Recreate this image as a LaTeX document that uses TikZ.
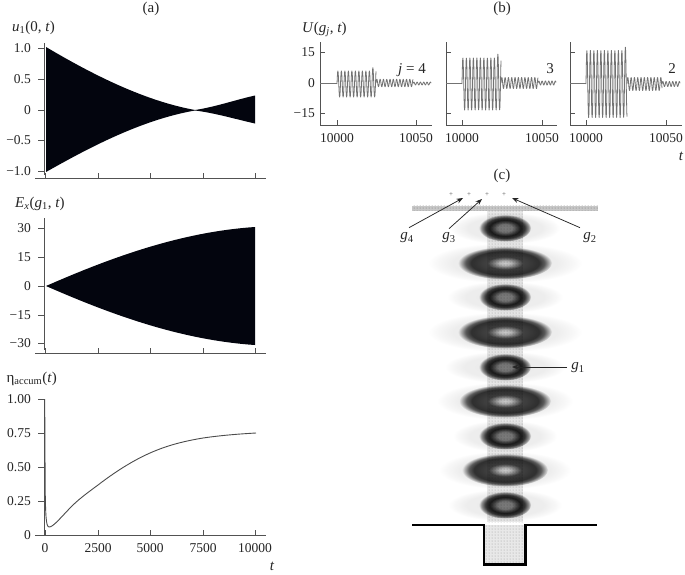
\documentclass[tikz,border=0pt]{standalone}
\usepackage{fontspec}
\setmainfont{Liberation Serif}
\usetikzlibrary{patterns,arrows.meta}
\definecolor{inkblack}{RGB}{3,5,14}
\definecolor{axisgray}{gray}{0.32}
\pgfdeclareradialshading{coresmall}{\pgfpoint{0bp}{0bp}}{%
  color(0bp)=(black!42); color(7bp)=(black!46); color(12bp)=(black!74); color(15bp)=(black!88);
  color(19bp)=(black!76); color(23bp)=(black!36); color(25bp)=(white); color(100bp)=(white)}
\pgfdeclareradialshading{corelarge}{\pgfpoint{0bp}{0bp}}{%
  color(0bp)=(black!6); color(3bp)=(black!14); color(6.5bp)=(black!46); color(9.5bp)=(black!72);
  color(18bp)=(black!80); color(21bp)=(black!62); color(23.5bp)=(black!24); color(25bp)=(white); color(100bp)=(white)}
\pgfdeclareradialshading{halo}{\pgfpoint{0bp}{0bp}}{%
  color(0bp)=(black!8); color(17bp)=(black!7); color(22bp)=(black!3); color(25bp)=(white); color(100bp)=(white)}
\newcommand{\ital}[1]{\textit{#1}}
\tikzset{
  axisline/.style={draw=axisgray,line width=0.8pt},
  ticktext/.style={font=\fontsize{13.5}{15}\selectfont,text=black!85,inner sep=0pt},
  labeltext/.style={font=\fontsize{15}{17}\selectfont,text=black!85,inner sep=0pt},
  envfill/.style={fill=inkblack,draw=none},
  sigline/.style={draw=black!55,line width=0.8pt,line join=round},
  pointer/.style={draw=black!85,line width=0.75pt,-{Stealth[length=6.5pt,width=5pt]}},
  wallfill/.style={fill=black!9},
  dotfill/.style={pattern=dots,pattern color=black!38},
}
% #1 x start, #2 x end, #3 zero line, #4 amplitude
\newcommand{\burst}[4]{\draw[sigline] plot[domain=#1:#2,samples=200] (\x,{#3-#4*sin(360*(\x-#1)/3.3)});}
% #5: extra height of the last upper peak, as a fraction
\newcommand{\mainburst}[5]{\draw[sigline] plot[domain=#1:#2,samples=300] (\x,{#3-#4*(sin(360*(\x-#1)/3.5)+(\x>#2-4.6?#5:0)*max(sin(360*(\x-#1)/3.5),0))});}
\newcommand{\blob}[6]{% y, core style, core rx, core ry, halo rx, halo ry
  \shade[shading=halo,blend mode=multiply] (505,#1) ellipse[x radius=#5,y radius=#6];
  \shade[shading=#2,blend mode=multiply] (505,#1) ellipse[x radius=#3,y radius=#4];}
\begin{document}
\begin{tikzpicture}[x=1pt,y=-1pt]
\useasboundingbox (0,0) rectangle (685,574);
\fill[white] (0,0) rectangle (685,574);
% panel titles
\node[labeltext] (titlea) at (151,9) {(a)};
\node[labeltext] (titleb) at (502,9) {(b)};
\node[labeltext] (titlec) at (502,176) {(c)};
% ---- panel a, top
\node[labeltext,anchor=west] (ylabA) at (12,28) {\ital{u}\textsubscript{1}(0, \ital{t})};
\fill[envfill] (46,47) .. controls (85,70) and (140,100) .. (195,110) .. controls (215,107) and (235,100) .. (255,95.5)
  -- (255,123.5) .. controls (235,119) and (215,113) .. (195,110.5) .. controls (140,120) and (85,150) .. (46,172) -- cycle;
\draw[axisline] (44.5,43) -- (44.5,175);
\draw[axisline] (35,178) -- (266,178);
\foreach \tx in {45,98,150,203,255} \draw[axisline] (\tx,178) -- (\tx,173);
\foreach \ty/\lab [count=\i] in {48/1.0,79/0.5,110/0,140/−0.5,171/−1.0}{
  \draw[axisline] (38,\ty) -- (44.5,\ty);
  \node[ticktext,anchor=east] (ua\i) at (31,\ty) {\lab};}
% ---- panel a, middle
\node[labeltext,anchor=west] (ylabB) at (15,204) {\ital{E}\textsubscript{\ital{x}}(\ital{g}\textsubscript{1}, \ital{t})};
\fill[envfill] (46,286) .. controls (110,258) and (180,232) .. (255,227)
  -- (255,345) .. controls (180,340) and (110,314) .. (46,286) -- cycle;
\draw[axisline] (35,353) -- (266,353);
\draw[axisline] (44.5,218) -- (44.5,350);
\foreach \tx in {45,98,150,203,255} \draw[axisline] (\tx,353) -- (\tx,348);
\foreach \ty/\lab [count=\i] in {228/30,257/15,286/0,315/−15,343/−30}{
  \draw[axisline] (38,\ty) -- (44.5,\ty);
  \node[ticktext,anchor=east] (ub\i) at (31,\ty) {\lab};}
% ---- panel a, bottom
\node[labeltext,anchor=east] (ylabC) at (57,379) {η\textsubscript{accum}(\ital{t})};
\draw[axisline] (35,535) -- (266,535);
\draw[axisline] (44.5,399) -- (44.5,535);
\foreach \tx/\lab [count=\i] in {45/0,98/2500,150/5000,203/7500,255/10000}{
  \draw[axisline] (\tx,535) -- (\tx,530);
  \node[ticktext] (xc\i) at (\tx,548) {\lab};}
\foreach \ty/\lab [count=\i] in {399/1.00,433/0.75,467/0.50,501/0.25,535/0}{
  \draw[axisline] (38,\ty) -- (44.5,\ty);
  \node[ticktext,anchor=east] (uc\i) at (31,\ty) {\lab};}
\draw[draw=black!70,line width=0.9pt] (44.7,399) -- (45.2,490) .. controls (45.6,515) and (46,527) .. (49,527)
  .. controls (53,527.5) and (62,516) .. (72,506) .. controls (80,498) and (90,491) .. (98,485)
  .. controls (115,472) and (132,461) .. (150,453) .. controls (168,445) and (185,441) .. (203,438)
  .. controls (220,435.5) and (238,434) .. (256,433);
\node[labeltext] (tA) at (272,566) {\ital{t}};
% ---- panel b
\node[labeltext,anchor=west] (ylabU) at (302,29) {\ital{U}(\ital{g}\textsubscript{\ital{j}}, \ital{t})};
\foreach \ty/\lab [count=\i] in {52/15,83/0,113/−15}{
  \node[ticktext,anchor=east] (ud\i) at (315,\ty) {\lab};}
\foreach \ox/\xa/\xb/\xe [count=\k] in {320/337/416/432,446/462/542/557,570/586/666/682}{
  \draw[axisline] (\ox,42) -- (\ox,125) -- (\xe,125);
  \draw[axisline] (\xa,125) -- (\xa,120);
  \draw[axisline] (\xb,125) -- (\xb,120);
  \foreach \ty in {52,83,113} \draw[axisline] (\ox,\ty) -- (\ox+5,\ty);
  \node[ticktext] (xl\k) at (\xa,138) {10000};
  \node[ticktext] (xr\k) at (\xb,138) {10050};
  \draw[sigline] (\ox,83) -- (\xa,83);
}
\mainburst{337}{376}{84}{13}{0.25}
\burst{376}{413}{83}{3.7}
\burst{413}{431}{83.5}{1.4}
\mainburst{462}{501}{84}{26}{0.15}
\burst{501}{538}{83}{5.5}
\burst{538}{556}{83}{2}
\mainburst{586}{627}{84}{33.5}{0.1}
\burst{627}{662}{84}{6.5}
\burst{662}{680}{84}{2.5}
\node[labeltext] (jfour) at (412,70) {\ital{j} = 4};
\node[labeltext] (jthree) at (550,69) {3};
\node[labeltext] (jtwo) at (672,69) {2};
\node[labeltext] (tB) at (681,156) {\ital{t}};
% ---- panel c
\fill[wallfill] (487,210) rectangle (523,522);
\fill[dotfill] (487,210) rectangle (523,522);
\fill[black!22] (412,205.5) rectangle (598,210.5);
\fill[pattern=dots,pattern color=black!55] (412,205.5) rectangle (598,210.5);
\fill[wallfill] (485,525) rectangle (525,564);
\fill[dotfill] (485,525) rectangle (525,564);
\blob{228}{coresmall}{26}{13.5}{55}{16}
\blob{263}{corelarge}{47}{16.5}{77}{20}
\blob{297}{coresmall}{26}{13.5}{58}{16}
\blob{332}{corelarge}{47}{16.5}{77}{20}
\blob{367}{coresmall}{26}{13.5}{60}{16}
\blob{401}{corelarge}{46}{16.5}{68}{19}
\blob{436}{coresmall}{26}{13.5}{52}{16}
\blob{470}{corelarge}{43}{16.5}{66}{19}
\blob{505}{coresmall}{26}{13.5}{57}{16}
\draw[draw=black,line width=2.8pt,line join=miter] (412,525) -- (484,525) -- (484,564.5) -- (525.5,564.5) -- (525.5,525) -- (597,525);
\foreach \px [count=\i] in {451,469,487,504}
  \node[font=\fontsize{7}{8}\selectfont,text=black!65,inner sep=0pt] (plus\i) at (\px,195) {+};
\coordinate (aimfour) at (463,198);
\coordinate (aimthree) at (482,199);
\coordinate (aimtwo) at (512,198);
\coordinate (aimone) at (512,367);
\node[labeltext] (gfour) at (407,238) {\ital{g}\textsubscript{4}};
\node[labeltext] (gthree) at (449,238) {\ital{g}\textsubscript{3}};
\node[labeltext] (gtwo) at (590,238) {\ital{g}\textsubscript{2}};
\node[labeltext] (gone) at (578,368) {\ital{g}\textsubscript{1}};
\draw[pointer] (gfour.north)++(2,-5) -- (aimfour);
\draw[pointer] (gthree.north)++(0,-4) -- (aimthree);
\draw[pointer] (gtwo.north)++(-10,-5) -- (aimtwo);
\draw[pointer] (gone.west)++(-4,-1) -- (aimone);
\end{tikzpicture}
\end{document}
